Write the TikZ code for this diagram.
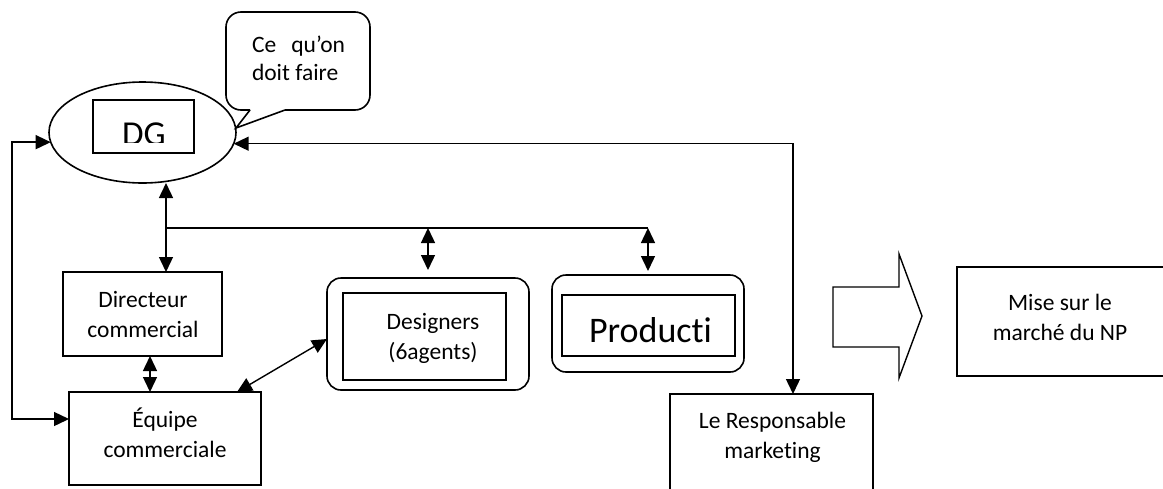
\documentclass[tikz,border=0pt]{standalone}
\usepackage{fontspec}
\setmainfont{Carlito}[Ligatures={NoCommon}]
\usetikzlibrary{arrows.meta,shapes.geometric}
\newcommand\twoline[2]{\begin{tabular}[t]{@{}c@{}}#1\\#2\end{tabular}}

\begin{document}
\begin{tikzpicture}[x=1pt,y=-1pt,
  every node/.style={inner sep=0pt, outer sep=0pt},
  txt/.style={font=\fontsize{23.5}{30}\selectfont, anchor=base},
  bigtxt/.style={font=\fontsize{36}{42}\selectfont, anchor=base},
  box/.style={draw, line width=1.6pt, rectangle},
  rbox/.style={draw, line width=1.6pt, rectangle, rounded corners=14pt},
  link/.style={line width=1.4pt},
  dbl/.style={{Triangle[length=15pt,width=14pt]}-{Triangle[length=15pt,width=14pt]}, line width=1.4pt},
]
\useasboundingbox (0,0) rectangle (1163,488);
\clip (0,0) rectangle (1163,488);

% --- DG ellipse with its framed label ---
\node[draw, ellipse, line width=1.6pt, minimum width=187pt, minimum height=101pt] (dg) at (142.5,132.5) {};
\node[box, minimum width=101pt, minimum height=53pt] (dgbox) at (143.5,126.5) {};
\begin{scope}
  \clip (95,101) rectangle (192,142);
  \node[bigtxt, font=\fontsize{35}{42}\selectfont] (dgtext) at (144,145) {DG};
\end{scope}

% --- speech bubble ---
\draw[line width=1.6pt, rounded corners=15pt]
  (250,110) -- (226,110) -- (226,12) -- (370,12) -- (370,110) -- (285,110);
\draw[line width=1.6pt, line join=miter] (250,110) -- (236,128) -- (285,110);
\node[txt, anchor=base west, font=\fontsize{23.5}{28}\selectfont] (bubble) at (252,52)
  {\begin{tabular}[t]{@{}l@{}}\makebox[93pt][s]{Ce qu’on}\\doit faire\end{tabular}};

% --- boxes ---
\node[box, minimum width=159pt, minimum height=84pt] (dir) at (142.5,314) {};
\node[txt] (dirtext) at (143,307) {\twoline{Directeur}{commercial}};

\node[box, minimum width=192pt, minimum height=93pt] (equ) at (165,438.5) {};
\node[txt] (equtext) at (165,427) {\twoline{Équipe}{commerciale}};

\node[rbox, minimum width=202pt, minimum height=112pt] (des) at (428,334) {};
\node[box, minimum width=163pt, minimum height=87pt] (desin) at (424.5,336.5) {};
\node[txt] (destext) at (433,329) {\twoline{Designers}{(6agents)}};

\node[rbox, minimum width=192pt, minimum height=97pt] (prod) at (648,323.5) {};
\node[box, minimum width=173pt, minimum height=61pt] (prodin) at (648.5,325.5) {};
\node[bigtxt] (prodtext) at (650.5,342) {Producti};

\node[box, minimum width=203pt, minimum height=110pt] (resp) at (771.5,449) {};
\node[txt] (resptext) at (772.5,428) {\twoline{Le Responsable}{marketing}};

\node[box, minimum width=213pt, minimum height=109pt] (mise) at (1063.5,321.5) {};
\node[txt] (misetext) at (1060,310) {\twoline{Mise sur le}{marché du NP}};

% --- block arrow towards the market ---
\draw[line width=1.4pt, line join=miter]
  (833,287) -- (899,287) -- (899,254) -- (922,316) -- (899,378) -- (899,347) -- (833,347) -- cycle;

% --- connectors ---
\coordinate (vc) at (166,228);
\coordinate (dc) at (428,228);
\coordinate (pc) at (648,228);
\coordinate (lc) at (12,419);
\coordinate (rc) at (793,143);

\draw[dbl] (vc |- dg.south) -- (vc |- dir.north);
\draw[link] (vc) -- (pc);
\draw[dbl, shorten >=8pt] (dc) -- (dc |- des.north);
\draw[dbl, shorten >=4pt] (pc) -- (pc |- prod.north);
\draw[dbl] ([xshift=7.5pt]dir.south) -- ([xshift=7.5pt]dir.south |- equ.north);
\draw[dbl] ([xshift=-24pt]equ.north east) -- ([yshift=-5pt]des.west);
\draw[dbl] (dg.186) -- (dg.186 -| lc) -- (lc) -- (lc -| equ.west);
\draw[dbl] (dg.353) -- (dg.353 -| rc) -- (rc |- resp.north);
\end{tikzpicture}
\end{document}
